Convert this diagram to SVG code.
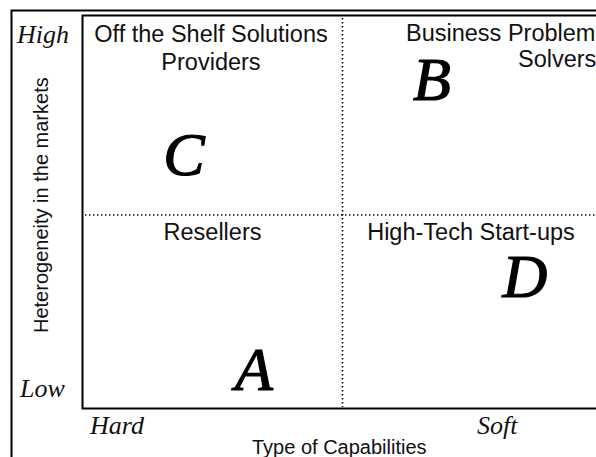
<svg xmlns="http://www.w3.org/2000/svg" width="596" height="457" viewBox="0 0 596 457">
  <style>
    .frame { fill: none; stroke: #000; stroke-width: 2; }
    .divider { fill: none; stroke: #000; stroke-width: 1.6; stroke-dasharray: 1.4 2.6; }
    .label { font-family: "Liberation Sans", Arial, sans-serif; font-size: 23.5px; fill: #111; }
    .axis { font-family: "Liberation Sans", Arial, sans-serif; font-size: 20px; fill: #111; }
    .scale { font-family: "Liberation Serif", "DejaVu Serif", serif; font-style: italic; font-size: 26px; fill: #111; }
    .letter { font-family: "Liberation Serif", "DejaVu Serif", serif; font-style: italic; font-size: 62px; fill: #000; stroke: #000; stroke-width: 1.2; text-anchor: middle; }
  </style>
  <rect width="596" height="457" fill="#fff"/>

  <!-- outer frame and plot area -->
  <rect class="frame" x="11.5" y="10.5" width="600" height="460"/>
  <rect class="frame" x="82.5" y="15.5" width="530" height="393" stroke-width="2.2"/>

  <!-- quadrant dividers -->
  <g id="connectors">
    <line class="divider" x1="342.5" y1="18" x2="342.5" y2="407"/>
    <line class="divider" x1="85" y1="215" x2="596" y2="215"/>
  </g>

  <!-- axis captions -->
  <g id="axis-y">
    <text class="axis" font-size="19" transform="translate(48 333) rotate(-90)">Heterogeneity in the markets</text>
    <text class="scale" x="17" y="43">High</text>
    <text class="scale" x="20" y="397">Low</text>
  </g>
  <g id="axis-x">
    <text class="axis" x="252" y="454">Type of Capabilities</text>
    <text class="scale" x="90" y="434">Hard</text>
    <text class="scale" x="477" y="434">Soft</text>
  </g>

  <!-- quadrants -->
  <g id="quadrant-c">
    <text class="label" x="211" y="42" text-anchor="middle">Off the Shelf Solutions</text>
    <text class="label" x="211" y="70" text-anchor="middle">Providers</text>
    <text class="letter" x="184" y="175">C</text>
  </g>
  <g id="quadrant-b">
    <text class="label" x="406" y="41">Business Problem</text>
    <text class="label" x="518" y="67">Solvers</text>
    <text class="letter" x="432" y="100">B</text>
  </g>
  <g id="quadrant-a">
    <text class="label" x="212.5" y="240" text-anchor="middle">Resellers</text>
    <text class="letter" x="254" y="390">A</text>
  </g>
  <g id="quadrant-d">
    <text class="label" x="471" y="240" text-anchor="middle">High-Tech Start-ups</text>
    <text class="letter" x="525" y="297">D</text>
  </g>
</svg>
